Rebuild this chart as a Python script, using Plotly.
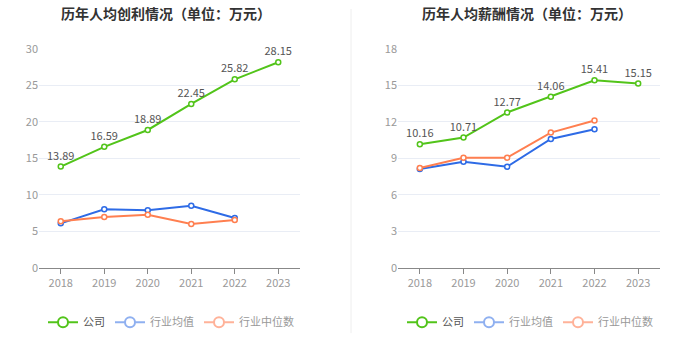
import plotly.graph_objects as go

years = ["2018", "2019", "2020", "2021", "2022", "2023"]
profit_company = [13.89, 16.59, 18.89, 22.45, 25.82, 28.15]
profit_ind_avg = [6.12, 8.04, 7.9, 8.53, 6.85]
profit_ind_med = [6.4, 6.98, 7.3, 6.03, 6.58]
salary_company = [10.16, 10.71, 12.77, 14.06, 15.41, 15.15]
salary_ind_avg = [8.13, 8.73, 8.32, 10.6, 11.39]
salary_ind_med = [8.21, 9.06, 9.06, 11.12, 12.11]

left_title = "历年人均创利情况（单位：万元）"
right_title = "历年人均薪酬情况（单位：万元）"
series_names = ["公司", "行业均值", "行业中位数"]

GREEN = "#52c41a"
BLUE = "#2e6be6"
ORANGE = "#ff7f50"
GREEN_L = "#52c41a"
BLUE_L = "#8fb0f0"
ORANGE_L = "#ffb299"
FONT = "Noto Sans CJK SC"

W, H = 699, 359


def py(y_target):
    # vertical pixel (from top) -> paper fraction, compensated for rendering
    y_in = (y_target - 9.3) / 0.954
    return 1 - y_in / H


fig = go.Figure()


def add_panel(xa, ya, company, avg, med, legend):
    fig.add_trace(go.Scatter(
        x=years, y=company, xaxis=xa, yaxis=ya, mode="lines+markers+text",
        text=[f"{v:.2f}" for v in company], textposition="top center",
        textfont=dict(size=11, color="#555", family=FONT),
        line=dict(color=GREEN, width=2),
        marker=dict(symbol="circle", size=5, color="white", line=dict(color=GREEN, width=1.5)),
        showlegend=False, cliponaxis=False))
    fig.add_trace(go.Scatter(
        x=years[:len(avg)], y=avg, xaxis=xa, yaxis=ya, mode="lines+markers",
        line=dict(color=BLUE, width=2),
        marker=dict(symbol="circle", size=5, color="white", line=dict(color=BLUE, width=1.5)),
        showlegend=False, cliponaxis=False))
    fig.add_trace(go.Scatter(
        x=years[:len(med)], y=med, xaxis=xa, yaxis=ya, mode="lines+markers",
        line=dict(color=ORANGE, width=2),
        marker=dict(symbol="circle", size=5, color="white", line=dict(color=ORANGE, width=1.5)),
        showlegend=False, cliponaxis=False))
    for nm, col, tc in zip(series_names, [GREEN_L, BLUE_L, ORANGE_L], ["#555", "#999", "#999"]):
        fig.add_trace(go.Scatter(
            x=[None], y=[None], xaxis=xa, yaxis=ya, mode="lines+markers",
            name=f"<span style='color:{tc}'>{nm}</span>",
            line=dict(color=col, width=2),
            marker=dict(symbol="circle", size=10, color="white", line=dict(color=col, width=2)),
            legend=legend, showlegend=True))


add_panel("x", "y", profit_company, profit_ind_avg, profit_ind_med, "legend")
add_panel("x2", "y2", salary_company, salary_ind_avg, salary_ind_med, "legend2")

axis_common = dict(type="category", range=[-0.5, 5.5], showgrid=False,
                   showline=True, linecolor="#888", linewidth=1,
                   ticks="outside", ticklen=5, tickcolor="#888",
                   tickfont=dict(size=11, color="#999", family=FONT), fixedrange=True)
yaxis_common = dict(showgrid=True, gridcolor="#e9edf5", gridwidth=1, zeroline=False,
                    showline=False, ticks="", tickfont=dict(size=11, color="#999", family=FONT),
                    domain=[py(268), py(49)], fixedrange=True)

fig.update_layout(
    width=W, height=H, margin=dict(l=0, r=0, t=0, b=0),
    paper_bgcolor="white", plot_bgcolor="white",
    font=dict(family=FONT),
    xaxis=dict(domain=[39 / W, 300 / W], anchor="y", **axis_common),
    xaxis2=dict(domain=[398 / W, 660 / W], anchor="y2", **axis_common),
    yaxis=dict(range=[0, 30], dtick=5, anchor="x", **yaxis_common),
    yaxis2=dict(range=[0, 18], dtick=3, anchor="x2", **yaxis_common),
    legend=dict(orientation="h", x=171 / W, xanchor="center", y=py(322), yanchor="middle",
                font=dict(size=11, family=FONT, color="#999"), itemwidth=30,
                bgcolor="rgba(0,0,0,0)"),
    legend2=dict(orientation="h", x=530 / W, xanchor="center", y=py(322), yanchor="middle",
                 font=dict(size=11, family=FONT, color="#999"), itemwidth=30,
                 bgcolor="rgba(0,0,0,0)"),
    annotations=[
        dict(text=f"<b>{left_title}</b>", x=166 / W, y=py(13), xref="paper", yref="paper",
             xanchor="center", yanchor="middle", showarrow=False,
             font=dict(size=14, color="#333", family=FONT)),
        dict(text=f"<b>{right_title}</b>", x=527 / W, y=py(13), xref="paper", yref="paper",
             xanchor="center", yanchor="middle", showarrow=False,
             font=dict(size=14, color="#333", family=FONT)),
    ],
    shapes=[dict(type="line", xref="paper", yref="paper", x0=351 / W, x1=351 / W,
                 y0=py(333), y1=1, line=dict(color="#eeeeee", width=1))],
    showlegend=True,
)

fig.write_html("out.html", config={"displayModeBar": False},
               post_script="document.body.style.margin='0';document.body.style.overflow='hidden';")
